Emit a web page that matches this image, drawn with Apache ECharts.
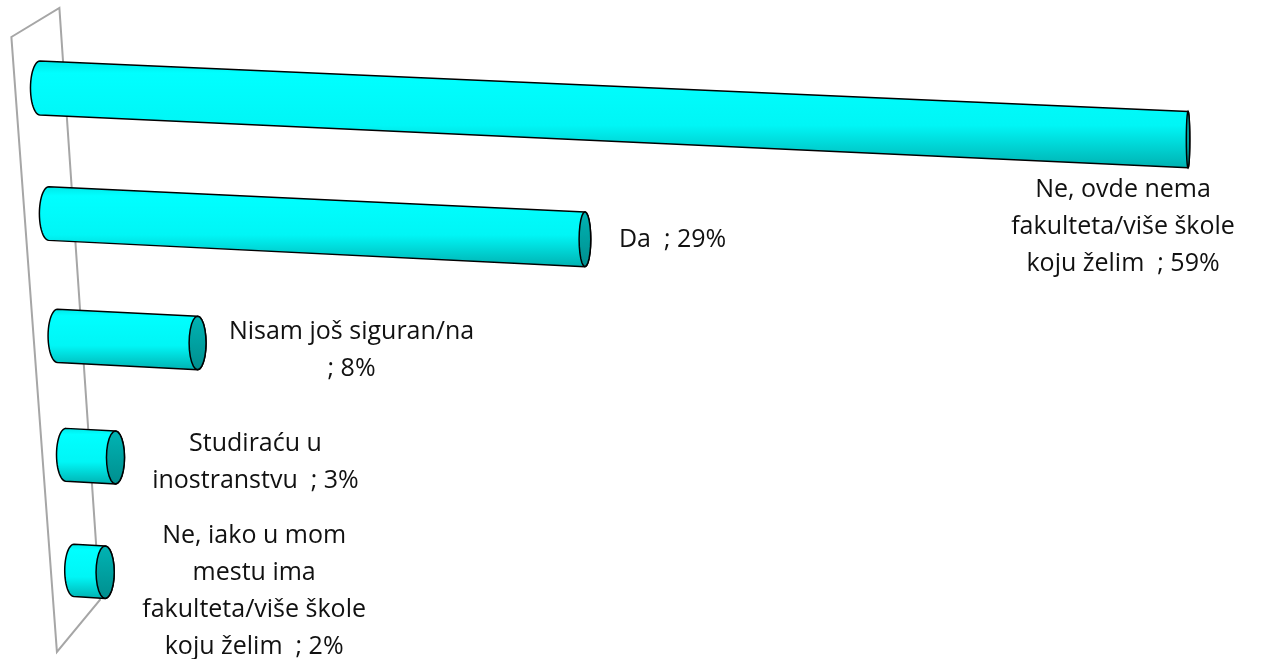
<!DOCTYPE html>
<html>
<head>
<meta charset="utf-8">
<script src="https://cdn.jsdelivr.net/npm/echarts@6/dist/echarts.min.js"></script>
<style>
html, body { margin: 0; padding: 0; background: #fff; }
#chart { width: 1261px; height: 659px; }
</style>
</head>
<body>
<div id="chart"></div>
<script>
// podaci
var categories = [
  'Ne, ovde nema\nfakulteta/više škole\nkoju želim',
  'Da',
  'Nisam još siguran/na',
  'Studiraću u\ninostranstvu',
  'Ne, iako u mom\nmestu ima\nfakulteta/više škole\nkoju želim'
];
var values = [59, 29, 8, 3, 2];
var separators = ['  ; ', '  ; ', '\n; ', '  ; ', '  ; '];

// gde stoji tekst u odnosu na kraj valjka
var labelPlace = [
  {dx: -65, dy: 87, align: 'center'},
  {dx: 34, dy: 1, align: 'left'},
  {dx: 154, dy: 7, align: 'center'},
  {dx: 140, dy: 5, align: 'center'},
  {dx: 149, dy: 19, align: 'center'}
];

var SLANT = 0.0705;   // nagib zida
var last = categories.length - 1;

// malo perspektive: pozicija reda i kraj valjka
var project = function (api, i, v) {
  var a = api.coord([0, 0]);
  var b = api.coord([0, last]);
  var p0 = api.coord([0, i]);
  var pv = api.coord([v, i]);
  var t = (p0[1] - a[1]) / (b[1] - a[1]);
  var yc = a[1] + (b[1] - a[1]) * (t + 0.055 * t * (1 - t));
  var xl = p0[0] + SLANT * (yc - a[1]);
  var len = (pv[0] - p0[0]) * (1 - 0.05 * i);
  return {
    xl: xl, yl: yc,
    xr: xl + len, yr: yc + (0.045 + 0.003 * i) * len,
    len: len, top: a[1], bottom: b[1], x0: a[0]
  };
};

var rxAt = function (x) {
  return Math.max(1.5, 9.8 - 0.0068 * x);
};

var arc = function (cx, cy, rx, ry, from, to, pts) {
  var n = 24;
  for (var k = 0; k <= n; k++) {
    var th = from + (to - from) * k / n;
    pts.push([cx + rx * Math.cos(th), cy + ry * Math.sin(th)]);
  }
  return pts;
};

var renderBar = function (params, api) {
  var i = api.value(1);
  var v = api.value(0);
  var p = project(api, i, v);
  var hl = 27 - 0.2 * i;
  var hr = hl + 0.001 * p.len;
  var rl = rxAt(p.xl), rr = rxAt(p.xr);

  var body = [];
  body.push([p.xl, p.yl - hl]);
  arc(p.xr, p.yr, rr, hr, -Math.PI / 2, Math.PI / 2, body);
  arc(p.xl, p.yl, rl, hl, Math.PI / 2, Math.PI * 1.5, body);

  var cap = arc(p.xr, p.yr, rr, hr, 0, Math.PI * 2, []);

  var lp = labelPlace[i];
  return {
    type: 'group',
    children: [
      {
        type: 'polygon',
        shape: {points: body},
        style: {
          fill: new echarts.graphic.LinearGradient(0, 0, 0, 1, [
            {offset: 0, color: '#00e6e6'},
            {offset: 0.12, color: '#00ffff'},
            {offset: 0.6, color: '#00f6f6'},
            {offset: 1, color: '#00b0b0'}
          ]),
          stroke: '#000',
          lineWidth: 1.5
        }
      },
      {
        type: 'polygon',
        shape: {points: cap},
        style: {
          fill: new echarts.graphic.LinearGradient(0, 0, 0, 1, [
            {offset: 0, color: '#00b4b4'},
            {offset: 1, color: '#008e8e'}
          ]),
          stroke: '#000',
          lineWidth: 1.5
        }
      },
      {
        type: 'text',
        x: p.xr + lp.dx,
        y: p.yr + lp.dy,
        style: {
          text: categories[i] + separators[i] + values[i] + '%',
          fontFamily: 'Open Sans',
          fontSize: 25,
          lineHeight: 37,
          fill: '#111',
          align: lp.align,
          verticalAlign: 'middle'
        }
      }
    ]
  };
};

// zadnji zid grafikona
var renderWall = function (params, api) {
  var p = project(api, 0, 0);
  var yT = p.top - 65.5;
  var yB = p.bottom + 55.5;
  var cT = p.x0 + SLANT * (yT - p.top);
  var cB = p.x0 + SLANT * (yB - p.top);
  return {
    type: 'polygon',
    shape: {points: [
      [cT - 24, yT + 14.5], [cT + 24, yT - 14.5],
      [cB + 22, yB - 26], [cB - 21, yB + 26]
    ]},
    style: {fill: 'none', stroke: '#a6a6a6', lineWidth: 2}
  };
};

var chart = echarts.init(document.getElementById('chart'));
var option = {
  backgroundColor: '#fff',
  animation: false,
  grid: {left: 40, right: 53.5, top: 27.7, bottom: 28.3},
  xAxis: {type: 'value', min: 0, max: 60, show: false},
  yAxis: {type: 'category', data: categories, inverse: true, show: false},
  series: [
    {
      type: 'custom',
      renderItem: renderWall,
      data: [[0, 0]],
      silent: true
    },
    {
      type: 'custom',
      renderItem: renderBar,
      encode: {x: 0, y: 1},
      data: values.map(function (v, i) { return [v, i]; })
    }
  ]
};
chart.setOption(option);
</script>
</body>
</html>
